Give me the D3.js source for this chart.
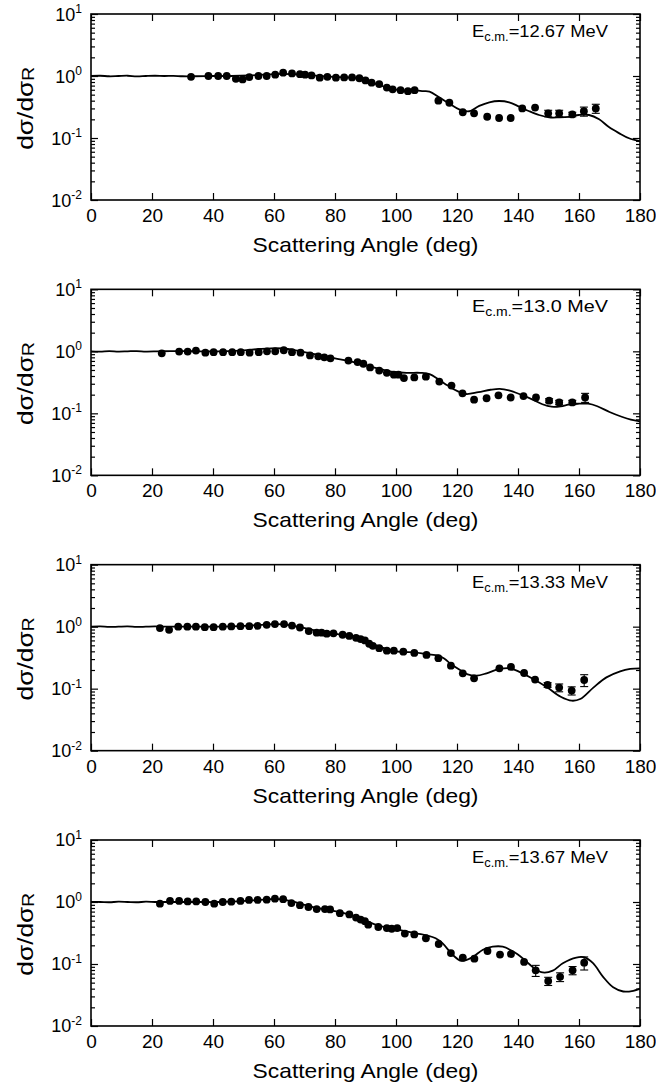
<!DOCTYPE html>
<html>
<head>
<meta charset="utf-8">
<script src="https://cdn.jsdelivr.net/npm/d3@7"></script>
<style>
  body { margin: 0; background: #fff; }
  text { font-family: "Liberation Sans", Arial, Helvetica, sans-serif; fill: #000; }
</style>
</head>
<body>
<svg id="chart" width="656" height="1091"></svg>
<script>
// ---- Elastic scattering ratio to Rutherford, four c.m. energies ----
const energies = ["12.67", "13.0", "13.33", "13.67"];

const xTicks = [0, 20, 40, 60, 80, 100, 120, 140, 160, 180];
const yDecades = [0.01, 0.1, 1, 10];
const yExponents = ["-2", "-1", "0", "1"];

// E = 12.67 MeV
const angle1 = [32.8, 38.5, 41.7, 44.5, 47.5, 49.7, 51.9, 54.9, 57.6, 60.4, 63.0, 65.9, 68.5, 70.2, 72.3, 75.0, 77.5, 80.3, 83.0, 85.6, 88.0, 90.0, 92.0, 94.5, 97.0, 98.9, 101.5, 103.9, 106.1, 113.9, 117.5, 121.9, 125.6, 129.9, 133.8, 137.6, 141.4, 145.6, 149.9, 153.5, 157.8, 161.6, 165.5];
const ratio1 = [0.97, 1.0, 1.0, 1.0, 0.9, 0.88, 0.96, 1.0, 1.0, 1.05, 1.13, 1.1, 1.07, 1.05, 1.02, 0.94, 0.97, 0.94, 0.95, 0.95, 0.92, 0.85, 0.78, 0.74, 0.65, 0.61, 0.59, 0.57, 0.59, 0.40, 0.37, 0.26, 0.25, 0.22, 0.21, 0.21, 0.30, 0.31, 0.25, 0.25, 0.24, 0.27, 0.30];
const err1 = [0, 0, 0, 0, 0, 0, 0, 0, 0, 0, 0, 0, 0, 0, 0, 0, 0, 0, 0, 0, 0, 0, 0, 0, 0, 0, 0, 0, 0, 0, 0, 0, 0, 0, 0, 0, 0, 0, 0.03, 0.03, 0.02, 0.045, 0.05];
const fitAngle1 = [0, 3, 6, 9, 12, 15, 18, 21, 24, 27, 30, 34, 40, 46, 52, 58, 63, 68, 73, 78, 83, 87, 90, 94, 98, 102, 106, 109, 111, 114, 117.4, 120.7, 124, 127.3, 130.6, 133.8, 137.1, 140.4, 143.7, 146.9, 150.2, 153.5, 156.8, 160, 163.3, 166.6, 169.8, 173.1, 176.4, 180];
const fitRatio1 = [1.0, 1.01, 0.99, 1.0, 1.01, 0.985, 1.0, 1.01, 1.0, 1.005, 0.99, 0.99, 1.0, 1.0, 1.02, 1.06, 1.08, 1.06, 1.02, 0.98, 0.95, 0.93, 0.86, 0.73, 0.63, 0.585, 0.59, 0.57, 0.56, 0.46, 0.36, 0.29, 0.27, 0.33, 0.377, 0.395, 0.377, 0.32, 0.27, 0.235, 0.215, 0.215, 0.22, 0.235, 0.235, 0.2, 0.15, 0.12, 0.099, 0.089];

// E = 13.0 MeV
const angle2 = [23.2, 28.9, 31.7, 34.4, 37.5, 40.2, 43.3, 46.3, 49.1, 52.0, 55.0, 57.7, 60.4, 63.2, 65.9, 68.7, 71.8, 74.5, 76.5, 78.5, 84.4, 87.4, 89.3, 91.5, 94.5, 97.0, 99.3, 100.8, 102.6, 106.0, 109.8, 114.2, 118.2, 121.8, 125.6, 129.7, 133.6, 137.6, 141.8, 145.9, 150.2, 153.5, 157.8, 162.0];
const ratio2 = [0.93, 0.99, 0.99, 1.03, 0.95, 0.97, 0.97, 0.97, 0.97, 0.95, 0.97, 1.0, 1.0, 1.04, 0.97, 0.95, 0.86, 0.83, 0.80, 0.77, 0.71, 0.67, 0.63, 0.55, 0.49, 0.45, 0.42, 0.42, 0.37, 0.38, 0.39, 0.325, 0.28, 0.21, 0.166, 0.175, 0.195, 0.18, 0.19, 0.18, 0.16, 0.15, 0.15, 0.18];
const err2 = [0, 0, 0, 0, 0, 0, 0, 0, 0, 0, 0, 0, 0, 0, 0, 0, 0, 0, 0, 0, 0, 0, 0, 0, 0, 0, 0, 0, 0, 0, 0, 0, 0, 0, 0, 0, 0, 0, 0, 0, 0.012, 0.012, 0.012, 0.03];
const fitAngle2 = [0, 3, 6, 9, 12, 15, 18, 22, 26, 30, 35, 40, 45, 50, 55, 59, 63, 67, 71, 75, 80, 84, 88, 92, 96, 100, 104, 108, 111, 114, 117, 120, 123, 127, 131, 134, 137, 141, 145, 148, 151, 154, 157, 160, 163, 166, 170, 174, 177, 180];
const fitRatio2 = [1.0, 0.99, 1.01, 0.99, 1.0, 1.01, 0.99, 1.0, 1.01, 1.01, 1.0, 1.0, 1.01, 1.04, 1.09, 1.12, 1.11, 1.04, 0.95, 0.86, 0.77, 0.71, 0.64, 0.56, 0.5, 0.46, 0.45, 0.45, 0.43, 0.35, 0.28, 0.23, 0.205, 0.22, 0.24, 0.248, 0.235, 0.2, 0.165, 0.14, 0.128, 0.13, 0.14, 0.143, 0.143, 0.13, 0.105, 0.088, 0.079, 0.074];

// E = 13.33 MeV
const angle3 = [22.6, 25.6, 28.6, 31.6, 34.4, 37.3, 40.2, 43.2, 46.0, 49.0, 51.9, 54.6, 57.6, 60.3, 63.3, 65.9, 68.5, 71.4, 74.0, 75.6, 77.3, 79.5, 82.5, 84.7, 86.9, 88.4, 89.8, 91.2, 92.4, 94.5, 97.0, 99.3, 102.4, 106.0, 110.0, 113.9, 118.0, 121.9, 125.6, 133.9, 137.7, 142.0, 145.6, 149.7, 153.5, 157.6, 161.7];
const ratio3 = [0.95, 0.89, 1.0, 1.0, 1.0, 0.98, 0.98, 1.0, 1.01, 1.02, 1.02, 1.03, 1.07, 1.1, 1.1, 1.04, 0.97, 0.85, 0.8, 0.8, 0.77, 0.78, 0.74, 0.71, 0.66, 0.63, 0.6, 0.53, 0.49, 0.45, 0.41, 0.41, 0.395, 0.377, 0.35, 0.31, 0.235, 0.177, 0.147, 0.213, 0.224, 0.179, 0.14, 0.115, 0.104, 0.093, 0.138];
const err3 = [0, 0, 0, 0, 0, 0, 0, 0, 0, 0, 0, 0, 0, 0, 0, 0, 0, 0, 0, 0, 0, 0, 0, 0, 0, 0, 0, 0, 0, 0, 0, 0, 0, 0, 0, 0, 0, 0, 0, 0, 0, 0, 0, 0.01, 0.015, 0.014, 0.03];
const fitAngle3 = [0, 3, 6, 9, 12, 15, 18, 21, 24, 28, 34, 40, 46, 52, 57, 61, 65, 69, 73, 77, 82, 86, 90, 94, 98, 102, 106, 110, 114, 116, 118, 121, 123.5, 126.4, 129.7, 134, 137.5, 140.8, 145, 149.5, 154, 157.6, 160.4, 164.8, 169, 173.5, 176.8, 180];
const fitRatio3 = [1.0, 1.01, 0.99, 1.0, 1.01, 0.99, 1.0, 1.01, 1.0, 1.0, 1.0, 1.0, 1.01, 1.04, 1.08, 1.1, 1.06, 0.97, 0.88, 0.81, 0.74, 0.67, 0.58, 0.49, 0.42, 0.39, 0.385, 0.36, 0.34, 0.3, 0.25, 0.2, 0.17, 0.162, 0.177, 0.208, 0.213, 0.183, 0.143, 0.105, 0.074, 0.064, 0.068, 0.105, 0.152, 0.19, 0.208, 0.213];

// E = 13.67 MeV
const angle4 = [22.6, 25.9, 28.9, 31.7, 34.5, 37.5, 40.4, 43.2, 46.0, 49.0, 51.8, 54.6, 57.6, 60.3, 63.0, 65.7, 68.5, 71.3, 74.0, 76.7, 78.4, 81.6, 84.7, 86.9, 88.4, 89.8, 90.9, 94.2, 97.0, 98.6, 100.4, 102.9, 106.0, 109.8, 114.0, 118.0, 121.9, 125.7, 130.0, 134.1, 137.7, 142.0, 145.8, 149.9, 153.8, 157.9, 161.7];
const ratio4 = [0.94, 1.04, 1.04, 1.02, 1.02, 1.0, 0.94, 1.0, 1.01, 1.04, 1.08, 1.08, 1.09, 1.13, 1.11, 0.96, 0.89, 0.83, 0.77, 0.77, 0.76, 0.66, 0.63, 0.56, 0.52, 0.49, 0.43, 0.395, 0.38, 0.37, 0.38, 0.31, 0.30, 0.26, 0.21, 0.15, 0.127, 0.122, 0.162, 0.142, 0.145, 0.108, 0.079, 0.053, 0.062, 0.079, 0.105];
const err4 = [0, 0, 0, 0, 0, 0, 0, 0, 0, 0, 0, 0, 0, 0, 0, 0, 0, 0, 0, 0, 0, 0, 0, 0, 0, 0, 0, 0, 0, 0, 0, 0, 0, 0, 0, 0, 0, 0, 0, 0, 0, 0, 0.016, 0.008, 0.01, 0.012, 0.025];
const fitAngle4 = [0, 3, 6, 9, 12, 15, 18, 21, 25, 30, 36, 42, 48, 54, 59, 62, 66, 70, 74, 78, 82, 86, 90, 94, 98, 103, 107, 110, 113, 115.3, 118.6, 121.5, 125.2, 128.5, 131.7, 135, 138.3, 141.6, 145.4, 148.1, 151.4, 154.7, 159.1, 161.8, 164.6, 167.9, 171.2, 174.5, 177.8, 180];
const fitRatio4 = [1.0, 1.0, 0.99, 1.01, 1.0, 0.99, 1.01, 1.0, 1.0, 1.0, 1.0, 1.0, 1.02, 1.07, 1.11, 1.11, 1.02, 0.9, 0.8, 0.74, 0.68, 0.6, 0.5, 0.42, 0.38, 0.34, 0.31, 0.29, 0.26, 0.215, 0.14, 0.112, 0.13, 0.17, 0.19, 0.19, 0.16, 0.123, 0.085, 0.073, 0.078, 0.103, 0.127, 0.128, 0.103, 0.062, 0.042, 0.036, 0.037, 0.04];

const panels = [
  { energy: energies[0], angle: angle1, ratio: ratio1, err: err1, fitAngle: fitAngle1, fitRatio: fitRatio1 },
  { energy: energies[1], angle: angle2, ratio: ratio2, err: err2, fitAngle: fitAngle2, fitRatio: fitRatio2 },
  { energy: energies[2], angle: angle3, ratio: ratio3, err: err3, fitAngle: fitAngle3, fitRatio: fitRatio3 },
  { energy: energies[3], angle: angle4, ratio: ratio4, err: err4, fitAngle: fitAngle4, fitRatio: fitRatio4 }
];

// ---- layout ----
const svg = d3.select("#chart");
const plotLeft = 91, plotRight = 640, plotH = 186, firstTop = 14, step = 275.33;
const x = d3.scaleLinear().domain([0, 180]).range([plotLeft, plotRight]);

// minor log ticks 2..9 in each decade
const minorTicks = [];
[0.01, 0.1, 1].forEach(d => { for (let k = 2; k <= 9; k++) minorTicks.push(d * k); });

function styleAxis(g) {
  g.selectAll(".domain").remove();
  g.selectAll(".tick line").attr("stroke", "#000").attr("stroke-width", 1.2);
}

panels.forEach((p, i) => {
  const top = firstTop + i * step;
  const bottom = top + plotH;
  const y = d3.scaleLog().domain([0.01, 10]).range([bottom, top]);
  const g = svg.append("g");

  const clipId = "clip" + i;
  g.append("clipPath").attr("id", clipId)
    .append("rect").attr("x", plotLeft).attr("y", top).attr("width", plotRight - plotLeft).attr("height", plotH);

  // axes: ticks point inward on all four sides
  g.append("g").attr("transform", `translate(0,${bottom})`)
    .call(d3.axisBottom(x).tickValues(xTicks).tickSize(-7).tickSizeOuter(0).tickPadding(8.5).tickFormat(d3.format("d")))
    .call(styleAxis)
    .call(a => a.selectAll("text").attr("font-size", 19).attr("font-family", "Liberation Sans, Arial, sans-serif").attr("fill", "#000"));
  g.append("g").attr("transform", `translate(0,${top})`)
    .call(d3.axisTop(x).tickValues(xTicks).tickSize(-7).tickSizeOuter(0).tickFormat(""))
    .call(styleAxis);
  g.append("g").attr("transform", `translate(${plotLeft},0)`)
    .call(d3.axisLeft(y).tickValues(yDecades).tickSize(-7).tickSizeOuter(0).tickFormat(""))
    .call(styleAxis);
  g.append("g").attr("transform", `translate(${plotLeft},0)`)
    .call(d3.axisLeft(y).tickValues(minorTicks).tickSize(-4).tickSizeOuter(0).tickFormat(""))
    .call(styleAxis);
  g.append("g").attr("transform", `translate(${plotRight},0)`)
    .call(d3.axisRight(y).tickValues(yDecades).tickSize(-7).tickSizeOuter(0).tickFormat(""))
    .call(styleAxis);
  g.append("g").attr("transform", `translate(${plotRight},0)`)
    .call(d3.axisRight(y).tickValues(minorTicks).tickSize(-4).tickSizeOuter(0).tickFormat(""))
    .call(styleAxis);

  // y tick labels as powers of ten
  yDecades.forEach((v, k) => {
    const t = g.append("text").attr("x", 82).attr("y", y(v) + 6.5)
      .attr("text-anchor", "end").attr("font-size", 18);
    t.append("tspan").text("10");
    t.append("tspan").attr("font-size", 12).attr("dy", -7.5).text(yExponents[k]);
  });

  // frame
  g.append("rect").attr("x", plotLeft).attr("y", top)
    .attr("width", plotRight - plotLeft).attr("height", plotH)
    .attr("fill", "none").attr("stroke", "#000").attr("stroke-width", 1.6);

  // optical-model curve
  const fit = p.fitAngle.map((a, k) => [a, p.fitRatio[k]]);
  g.append("path").datum(fit)
    .attr("clip-path", `url(#${clipId})`)
    .attr("fill", "none").attr("stroke", "#000").attr("stroke-width", 1.8)
    .attr("d", d3.line().x(d => x(d[0])).y(d => y(d[1])).curve(d3.curveCatmullRom.alpha(0.5)));

  // measured points with error bars
  const pts = p.angle.map((a, k) => ({ a, v: p.ratio[k], e: p.err[k] }));
  const eb = g.append("g").attr("stroke", "#000").attr("stroke-width", 1.1);
  pts.filter(d => d.e > 0).forEach(d => {
    const y1 = y(d.v + d.e), y2 = y(d.v - d.e), cx = x(d.a);
    eb.append("line").attr("x1", cx).attr("x2", cx).attr("y1", y1).attr("y2", y2);
    eb.append("line").attr("x1", cx - 4).attr("x2", cx + 4).attr("y1", y1).attr("y2", y1);
    eb.append("line").attr("x1", cx - 4).attr("x2", cx + 4).attr("y1", y2).attr("y2", y2);
  });
  g.append("g").selectAll("circle").data(pts).join("circle")
    .attr("cx", d => x(d.a)).attr("cy", d => y(d.v)).attr("r", 3.9).attr("fill", "#000");

  // energy annotation
  const ann = g.append("g").attr("transform", `translate(472,${top + 23})`);
  const at = ann.append("text").attr("font-size", 17);
  at.append("tspan").text("E");
  at.append("tspan").attr("font-size", 12).attr("dy", 4).text("c.m.");
  at.append("tspan").attr("dy", -4).text("=" + p.energy + " MeV");
  const aw = at.node().getComputedTextLength();
  at.attr("transform", `scale(${136 / aw},1)`);

  // x-axis title
  const xt = g.append("g").attr("transform", `translate(${(plotLeft + plotRight) / 2},${bottom + 52})`);
  const xtt = xt.append("text").attr("text-anchor", "middle").attr("font-size", 20).text("Scattering Angle (deg)");
  const xw = xtt.node().getComputedTextLength();
  xtt.attr("transform", `scale(${226 / xw},1)`);

  // y-axis title
  const yt = g.append("g").attr("transform", `translate(33,${top + 94.3}) rotate(-90)`);
  const ytt = yt.append("text").attr("text-anchor", "middle").attr("font-size", 22);
  ytt.append("tspan").text("dσ/dσ");
  ytt.append("tspan").attr("font-size", 16).attr("dy", 1).text("R");
  const yw = ytt.node().getComputedTextLength();
  ytt.attr("transform", `scale(${83 / yw},1)`);
});
</script>
</body>
</html>
